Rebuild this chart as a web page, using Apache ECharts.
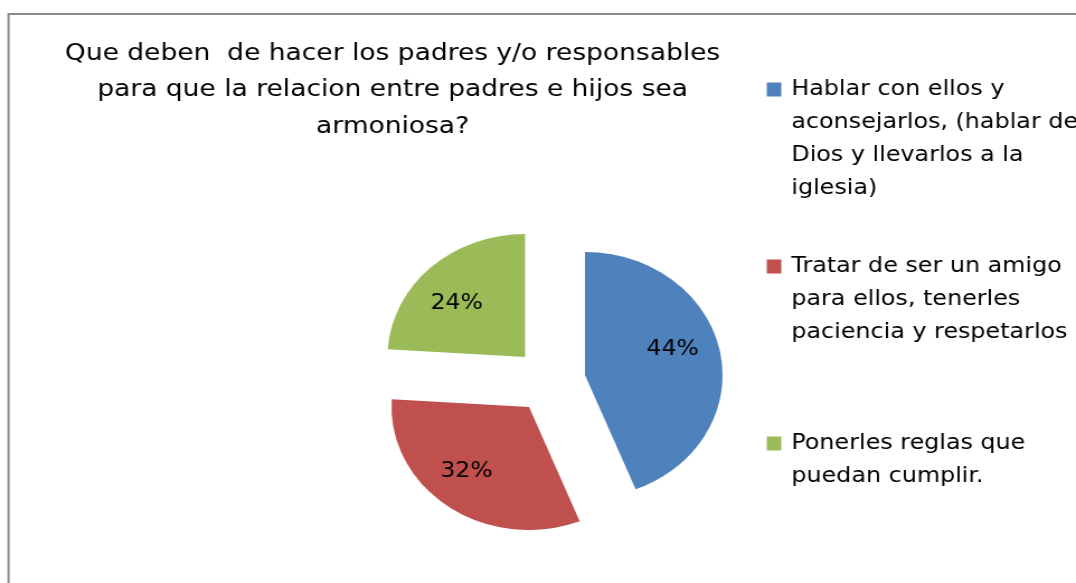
<!DOCTYPE html>
<html>
<head>
<meta charset="utf-8">
<script src="https://cdn.jsdelivr.net/npm/echarts@6/dist/echarts.min.js"></script>
<style>
  html, body { margin: 0; padding: 0; background: #fff; overflow: hidden; }
  /* the reference is stretched horizontally, so draw at 962 wide and stretch */
  #chart { width: 962px; height: 583px; transform: scaleX(1.1185); transform-origin: 0 0; }
</style>
</head>
<body>
<div id="chart"></div>
<script>
const categories = [
  'Hablar con ellos y aconsejarlos, (hablar de Dios y llevarlos a la iglesia)',
  'Tratar de ser un amigo para ellos, tenerles paciencia y respetarlos',
  'Ponerles reglas que puedan cumplir.'
]
const legendLabels = [
  'Hablar con ellos y\naconsejarlos, (hablar de\nDios y llevarlos a la\niglesia)',
  'Tratar de ser un amigo\npara ellos, tenerles\npaciencia y respetarlos',
  'Ponerles reglas que\npuedan cumplir.'
]
const values = [44, 32, 24]
const titleText = 'Que deben  de hacer los padres y/o responsables\npara que la relacion entre padres e hijos sea\narmoniosa?'

const colors = ['#4F81BD', '#C0504D', '#9BBB59']
const font = 'DejaVu Sans'

// exploded slices: each slice gets its own pie centre
const centers = [[523, 375], [473, 407], [469.4, 357]]
const labelShift = [[15, -13], [-18, 12], [-17, -6]]
const legendTops = [-26, 184, 394]
const lineH = 33

const series = values.map((_, i) => ({
  type: 'pie',
  center: centers[i],
  radius: 123,
  silent: true,
  animation: false,
  emphasis: { disabled: true },
  itemStyle: { borderWidth: 0 },
  label: {
    position: 'inside',
    formatter: '{d}%',
    color: '#000',
    fontFamily: font,
    fontSize: 21
  },
  labelLine: { show: false },
  labelLayout: { dx: labelShift[i][0], dy: labelShift[i][1] },
  data: values.map((v, j) => ({
    value: v,
    name: categories[j],
    itemStyle: { color: j === i ? colors[j] : 'rgba(0,0,0,0)' },
    label: { show: j === i }
  }))
}))

// legend text is centred on its marker, so put empty lines in front
// to bring the first line level with the marker
const legend = categories.map((name, i) => {
  const n = legendLabels[i].split('\n').length
  const text = ' \n'.repeat(n - 1) + legendLabels[i]
  return {
    orient: 'vertical',
    left: 685.5,
    top: legendTops[i],
    padding: 0,
    itemWidth: 13,
    itemHeight: 14,
    icon: 'rect',
    selectedMode: false,
    data: [{ name: name, itemStyle: { color: colors[i] } }],
    formatter: () => text,
    textStyle: {
      fontFamily: font,
      fontSize: 21.3,
      color: '#000',
      lineHeight: lineH,
      padding: [0, 0, 0, 4]
    }
  }
})

const option = {
  backgroundColor: '#fff',
  title: {
    text: titleText,
    left: 351,
    top: 35.5,
    textAlign: 'center',
    padding: 0,
    textStyle: {
      fontFamily: font,
      fontSize: 23.7,
      fontWeight: 'normal',
      color: '#000',
      lineHeight: 36.5
    }
  },
  legend: legend,
  graphic: [{
    type: 'rect',
    shape: { x: 7.6, y: 14, width: 2000, height: 2000 },
    style: { fill: 'none', stroke: '#8c8c8c', lineWidth: 2 },
    silent: true
  }],
  series: series
}

const chart = echarts.init(document.getElementById('chart'))
chart.setOption(option)
</script>
</body>
</html>
